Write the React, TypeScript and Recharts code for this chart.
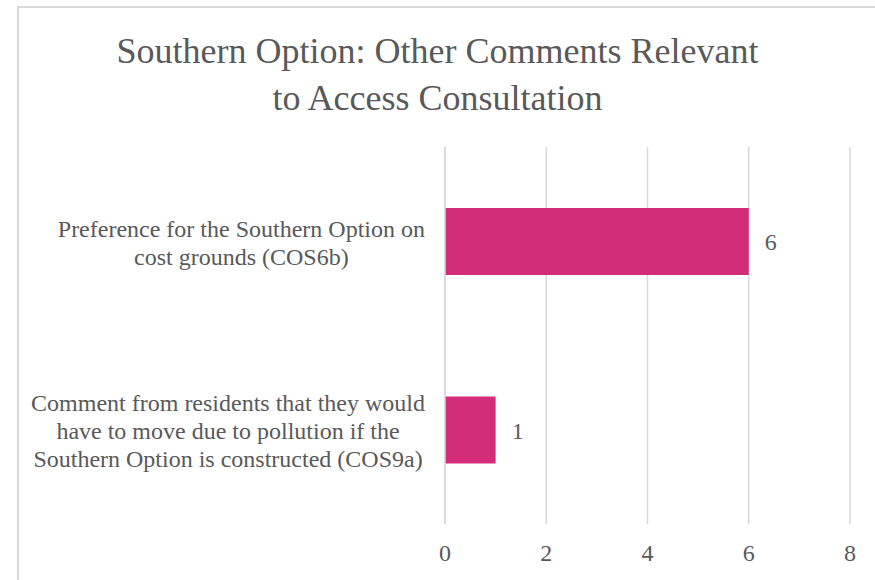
import React from "react";
import { BarChart, Bar, XAxis, YAxis, CartesianGrid, LabelList } from "recharts";

const categories = [
  "Preference for the Southern Option on\ncost grounds (COS6b)",
  "Comment from residents that they would\nhave to move due to pollution if the\nSouthern Option is constructed (COS9a)",
];
const counts = [6, 1];
const xTicks = [0, 2, 4, 6, 8];
const titleLines = ["Southern Option: Other Comments Relevant", "to Access Consultation"];

const data = categories.map((c, i) => ({ name: c, value: counts[i] }));

const FONT = "Liberation Serif";
const TEXT = "#595959";
const FS = 24;

let ctx: CanvasRenderingContext2D | null = null;
const measure = (s: string) => {
  if (!ctx && typeof document !== "undefined") {
    ctx = document.createElement("canvas").getContext("2d");
  }
  if (!ctx) return s.length * 10;
  ctx.font = `${FS}px "${FONT}"`;
  return ctx.measureText(s).width;
};

const YTick = (props: any) => {
  const { y, payload } = props;
  const lines = String(payload.value).split("\n");
  const lh = 27.8;
  const start = y - ((lines.length - 1) * lh) / 2 + 1;
  const maxW = Math.max(...lines.map(measure));
  const right = 425;
  const cx = right - maxW / 2;
  return (
    <g>
      {lines.map((l, i) => (
        <text
          key={i}
          x={cx}
          y={start + i * lh}
          dy="0.35em"
          textAnchor="middle"
          style={{ fontFamily: FONT, fontSize: FS }}
          fill={TEXT}
        >
          {l}
        </text>
      ))}
    </g>
  );
};

const XTick = (props: any) => {
  const { x, payload } = props;
  return (
    <text x={x} y={553} dy="0.35em" textAnchor="middle" style={{ fontFamily: FONT, fontSize: FS }} fill={TEXT}>
      {payload.value}
    </text>
  );
};

export default function App() {
  return (
    <div style={{ position: "absolute", left: 0, top: 0, width: 875, height: 580, overflow: "hidden", background: "#fff", fontFamily: FONT }}>
      <div
        style={{
          position: "absolute",
          left: 17,
          top: 6,
          width: 900,
          height: 600,
          borderTop: "2px solid #d9d9d9",
          borderLeft: "2px solid #d9d9d9",
          boxSizing: "border-box",
        }}
      />
      <div
        style={{
          position: "absolute",
          left: 0,
          top: 27.6,
          width: 875,
          textAlign: "center",
          fontFamily: FONT,
          fontSize: 36,
          lineHeight: "47px",
          color: TEXT,
        }}
      >
        <div>{titleLines[0]}</div>
        <div>{titleLines[1]}</div>
      </div>
      <div style={{ position: "absolute", left: 0, top: 0 }}>
        <BarChart
          layout="vertical"
          width={875}
          height={580}
          data={data}
          margin={{ top: 147, right: 25, bottom: 0, left: 0 }}
          style={{ fontFamily: FONT }}
        >
          <CartesianGrid horizontal={false} stroke="#d9d9d9" strokeWidth={1.5} />
          <XAxis
            type="number"
            domain={[0, 8]}
            ticks={xTicks}
            axisLine={false}
            tickLine={false}
            height={56}
            tick={<XTick />}
          />
          <YAxis
            type="category"
            dataKey="name"
            width={445}
            axisLine={{ stroke: "#d9d9d9", strokeWidth: 1.5 }}
            tickLine={false}
            tick={<YTick />}
            interval={0}
          />
          <Bar dataKey="value" fill="#D32D7A" barSize={67} isAnimationActive={false}>
            <LabelList
              dataKey="value"
              position="right"
              offset={16}
              style={{ fontFamily: FONT, fontSize: FS }}
              fill={TEXT}
            />
          </Bar>
        </BarChart>
      </div>
    </div>
  );
}
